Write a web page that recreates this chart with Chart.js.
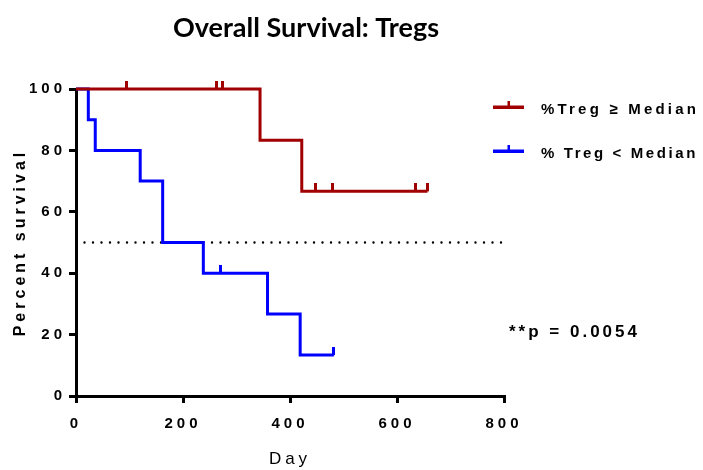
<!DOCTYPE html>
<html>
<head>
<meta charset="utf-8">
<script src="https://cdn.jsdelivr.net/npm/chart.js@4"></script>
<style>
  html, body { margin: 0; padding: 0; background: #fff; }
  #wrap { width: 703px; height: 470px; }
</style>
</head>
<body>
<div id="wrap"><canvas id="myChart"></canvas></div>
<script>
Chart.defaults.color = 'black';
Chart.defaults.font.family = "'Liberation Sans', Arial, sans-serif";


// DATA
// ================================================================
var redDays = [0, 344, 422, 657];
var redSurv = [100, 83.33, 66.67, 66.67];
var redCensorDays = [95, 263, 273, 447, 479, 634, 657];
var redCensorSurv = [100, 100, 100, 66.67, 66.67, 66.67, 66.67];

var blueDays = [0, 23, 36, 120, 162, 238, 358, 419, 482];
var blueSurv = [100, 90, 80, 70, 50, 40, 26.67, 13.33, 13.33];
var blueCensorDays = [270, 482];
var blueCensorSurv = [40, 13.33];

var medianDays = [0, 800];
var medianSurv = [50, 50];

var seriesLabels = ['%Treg \u2265 Median', '% Treg < Median'];
var RED = '#A00000';
var BLUE = '#0000FF';

function pts(xs, ys) {
	return xs.map(function (x, i) { return { x: x, y: ys[i] }; });
}

// little upward tick used for censored subjects
function censorMark(color) {
	var c = document.createElement('canvas');
	c.width = 3;
	c.height = 16;
	var g = c.getContext('2d');
	g.fillStyle = color;
	g.fillRect(0, 0, 3, 8);
	return c;
}

var data = {
	datasets: [
		{
			label: seriesLabels[0],
			data: pts(redDays, redSurv),
			borderColor: RED,
			borderWidth: 3,
			stepped: 'before',
			pointRadius: 0,
			clip: false
		},
		{
			data: pts(redCensorDays, redCensorSurv),
			showLine: false,
			pointStyle: censorMark(RED),
			pointRadius: 5,
			clip: false
		},
		{
			label: seriesLabels[1],
			data: pts(blueDays, blueSurv),
			borderColor: BLUE,
			borderWidth: 3,
			stepped: 'before',
			pointRadius: 0,
			clip: false
		},
		{
			data: pts(blueCensorDays, blueCensorSurv),
			showLine: false,
			pointStyle: censorMark(BLUE),
			pointRadius: 5,
			clip: false
		},
		{
			data: pts(medianDays, medianSurv),
			borderColor: 'black',
			borderWidth: 2.4,
			borderDash: [0, 8.5],
			borderCapStyle: 'round',
			pointRadius: 0
		}
	]
};


// Plugins
// ================================================================
var extras = {
	id: 'extras',
	beforeDraw: function (chart) {
		chart.ctx.letterSpacing = '4px';
	},
	afterDraw: function (chart) {
		var ctx = chart.ctx;
		ctx.save();

		// title
		ctx.letterSpacing = '0px';
		ctx.fillStyle = 'black';
		ctx.font = 'bold 27px Lato, sans-serif';
		ctx.textAlign = 'center';
		ctx.textBaseline = 'alphabetic';
		ctx.fillText('Overall Survival: Tregs', 306, 37, 273);

		// legend
		var rows = [
			{ color: RED, y: 107, text: seriesLabels[0], gap: '3.2px' },
			{ color: BLUE, y: 151, text: seriesLabels[1], gap: '2.6px' }
		];
		rows.forEach(function (r) {
			ctx.fillStyle = r.color;
			ctx.fillRect(493, r.y - 1.5, 31, 3.5);
			ctx.fillRect(507.5, r.y - 6, 2.5, 6);
			ctx.fillStyle = 'black';
			ctx.font = 'bold 15px "Liberation Sans", Arial, sans-serif';
			ctx.letterSpacing = r.gap;
			ctx.textAlign = 'left';
			ctx.textBaseline = 'middle';
			ctx.fillText(r.text, 541, r.y + 3);
		});

		// p value
		ctx.font = 'bold 17px "Liberation Sans", Arial, sans-serif';
		ctx.letterSpacing = '3px';
		ctx.textBaseline = 'alphabetic';
		ctx.fillText('**p = 0.0054', 509, 337);
		ctx.restore();
	}
};


// OPTIONS
// ================================================================
var options = {
	responsive: true,
	maintainAspectRatio: false,
	animation: false,
	layout: {
		padding: { left: 0, right: 199, top: 89, bottom: 0 }
	},
	plugins: {
		legend: { display: false },
		title: { display: false },
		tooltip: { enabled: false }
	},

	scales: {
		x: {
			type: 'linear',
			min: 0,
			max: 800,
			afterFit: function (s) { s.height = 74; },
			title: {
				display: true,
				text: 'Day',
				font: { size: 17, weight: 'normal' },
				padding: { top: 0, bottom: 0 }
			},
			ticks: {
				stepSize: 200,
				padding: 12,
				font: { size: 15, weight: 'bold' }
			},
			grid: {
				drawOnChartArea: false,
				drawTicks: true,
				tickLength: 7,
				lineWidth: 3,
				color: 'black'
			},
			border: { display: true, width: 3, color: 'black' }
		},

		y: {
			min: 0,
			max: 100,
			afterFit: function (s) { s.width = 76; },
			title: {
				display: true,
				text: 'Percent survival',
				font: { size: 16, weight: 'bold' },
				padding: { top: 11, bottom: 11 }
			},
			ticks: {
				stepSize: 20,
				padding: 3,
				font: { size: 15, weight: 'bold' }
			},
			grid: {
				drawOnChartArea: false,
				drawTicks: true,
				tickLength: 7,
				lineWidth: 3,
				color: 'black'
			},
			border: { display: true, width: 3, color: 'black' }
		}
	}
};


// Create the chart
var ctx = document.getElementById('myChart').getContext('2d');
var Render = new Chart(ctx, {
	type: 'line',
	data: data,
	options: options,
	plugins: [extras]
});
</script>
</body>
</html>
